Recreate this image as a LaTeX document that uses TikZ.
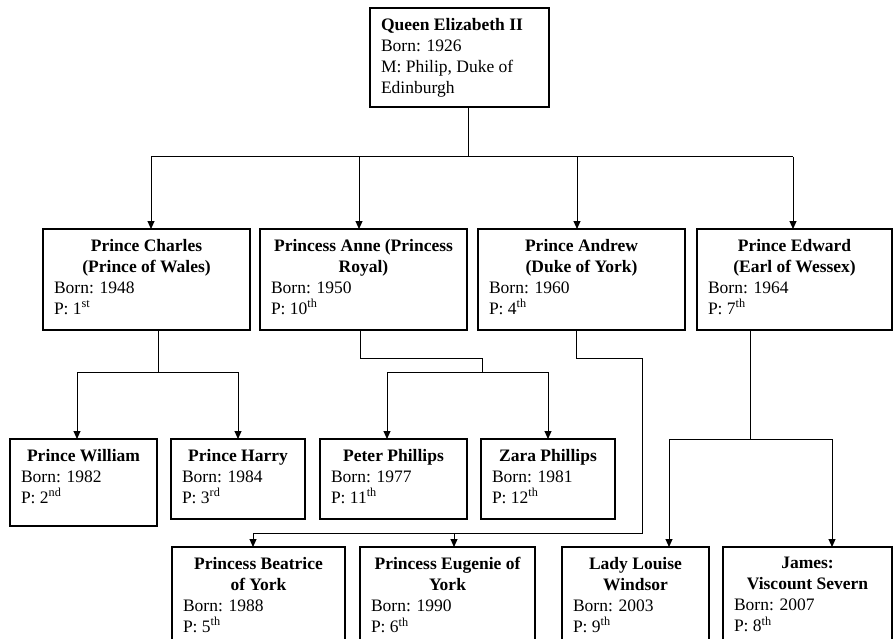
\documentclass[tikz,border=0pt]{standalone}
\usepackage{fontspec}
\setmainfont{Liberation Serif}
\usepackage{tikz}
\usetikzlibrary{positioning,arrows.meta}

% text of one card: box width, box height, title, details
\newcommand{\card}[4]{%
  \begin{minipage}[t][\dimexpr#2-20pt\relax][t]{\dimexpr#1-22pt\relax}
    \fontsize{17.5}{21}\selectfont
    {\centering\bfseries #3\par}
    \raggedright #4
  \end{minipage}}

\begin{document}
\begin{tikzpicture}[x=1pt, y=-1pt, line width=1pt, >={Triangle[length=8pt,width=7pt]}]
	% Define styles for boxes
	\tikzset{
		person/.style={
			draw,
			line width=1.1pt,
			inner xsep=11pt,
			inner ysep=10pt,
			outer sep=0pt,
			anchor=north west
		}
	}
	\useasboundingbox (0,0) rectangle (893,639);
	\clip (0,0) rectangle (893,639);
	
	% Queen
	\node[person] (queen) at (370,8) {\card{179pt}{99pt}{}{\textbf{Queen Elizabeth II}\\Born: 1926\\M: Philip, Duke of\\Edinburgh}};
	
	% Children
	\node[person] (charles) at (43,229) {\card{207pt}{101pt}{Prince Charles\\(Prince of Wales)}{Born: 1948\\P: 1\textsuperscript{st}}};
	\node[person, right=10pt of charles] (anne) {\card{207pt}{101pt}{Princess Anne (Princess\\Royal)}{Born: 1950\\P: 10\textsuperscript{th}}};
	\node[person, right=11pt of anne] (andrew) {\card{207pt}{101pt}{Prince Andrew\\(Duke of York)}{Born: 1960\\P: 4\textsuperscript{th}}};
	\node[person, right=12pt of andrew] (edward) {\card{195pt}{101pt}{Prince Edward\\(Earl of Wessex)}{Born: 1964\\P: 7\textsuperscript{th}}};
	
	% Grandchildren, upper row
	\node[person] (william) at (10,439) {\card{147pt}{87pt}{Prince William}{Born: 1982\\P: 2\textsuperscript{nd}}};
	\node[person] (harry) at (171,439) {\card{134pt}{80pt}{Prince Harry}{Born: 1984\\P: 3\textsuperscript{rd}}};
	\node[person] (peter) at (320,439) {\card{147pt}{80pt}{Peter Phillips}{Born: 1977\\P: 11\textsuperscript{th}}};
	\node[person] (zara) at (481,439) {\card{134pt}{80pt}{Zara Phillips}{Born: 1981\\P: 12\textsuperscript{th}}};
	
	% Grandchildren, lower row
	\node[person] (beatrice) at (172,547) {\card{173pt}{110pt}{Princess Beatrice\\of York}{Born: 1988\\P: 5\textsuperscript{th}}};
	\node[person] (eugenie) at (360,547) {\card{175pt}{110pt}{Princess Eugenie of\\York}{Born: 1990\\P: 6\textsuperscript{th}}};
	\node[person] (louise) at (562,547) {\card{147pt}{110pt}{Lady Louise\\Windsor}{Born: 2003\\P: 9\textsuperscript{th}}};
	\node[person] (james) at (723,547) {\card{169pt}{110pt}{James:\\Viscount Severn}{Born: 2007\\P: 8\textsuperscript{th}}};
	
	% Queen to her children
	\coordinate (qbar) at (468,157);
	\draw (queen.south -| qbar) -- (qbar);
	\draw ([xshift=4.5pt]charles.north |- qbar) -- ([xshift=-1.5pt]edward.north |- qbar);
	\draw[->] ([xshift=4.5pt]charles.north |- qbar) -- ([xshift=4.5pt]charles.north);
	\draw[->] ([xshift=-4.5pt]anne.north |- qbar) -- ([xshift=-4.5pt]anne.north);
	\draw[->] ([xshift=-4.5pt]andrew.north |- qbar) -- ([xshift=-4.5pt]andrew.north);
	\draw[->] ([xshift=-1.5pt]edward.north |- qbar) -- ([xshift=-1.5pt]edward.north);
	
	% Charles to William and Harry
	\coordinate (cbar) at (158,372);
	\draw (charles.south -| cbar) -- (cbar);
	\draw ([xshift=-6.5pt]william.north |- cbar) -- (harry.north |- cbar);
	\draw[->] ([xshift=-6.5pt]william.north |- cbar) -- ([xshift=-6.5pt]william.north);
	\draw[->] (harry.north |- cbar) -- (harry.north);
	
	% Anne to Peter and Zara
	\coordinate (aknee) at (482,358);
	\coordinate (abar) at (482,372);
	\draw ([xshift=-3.5pt]anne.south) |- (aknee) -- (abar);
	\draw ([xshift=-6.5pt]peter.north |- abar) -- (zara.north |- abar);
	\draw[->] ([xshift=-6.5pt]peter.north |- abar) -- ([xshift=-6.5pt]peter.north);
	\draw[->] (zara.north |- abar) -- (zara.north);
	
	% Andrew to Beatrice and Eugenie
	\coordinate (dknee) at (642,358);
	\coordinate (dbar) at (642,533);
	\draw ([xshift=-5.5pt]andrew.south) |- (dknee) -- (dbar) -- ([xshift=-5.5pt]beatrice.north |- dbar);
	\draw[->] ([xshift=-5.5pt]beatrice.north |- dbar) -- ([xshift=-5.5pt]beatrice.north);
	\draw[->] ([xshift=6.5pt]eugenie.north |- dbar) -- ([xshift=6.5pt]eugenie.north);
	
	% Edward to Louise and James
	\coordinate (ebar) at (750,439);
	\draw (edward.south -| ebar) -- (ebar);
	\draw ([xshift=33.5pt]louise.north |- ebar) -- ([xshift=24.5pt]james.north |- ebar);
	\draw[->] ([xshift=33.5pt]louise.north |- ebar) -- ([xshift=33.5pt]louise.north);
	\draw[->] ([xshift=24.5pt]james.north |- ebar) -- ([xshift=24.5pt]james.north);
\end{tikzpicture}
\end{document}
